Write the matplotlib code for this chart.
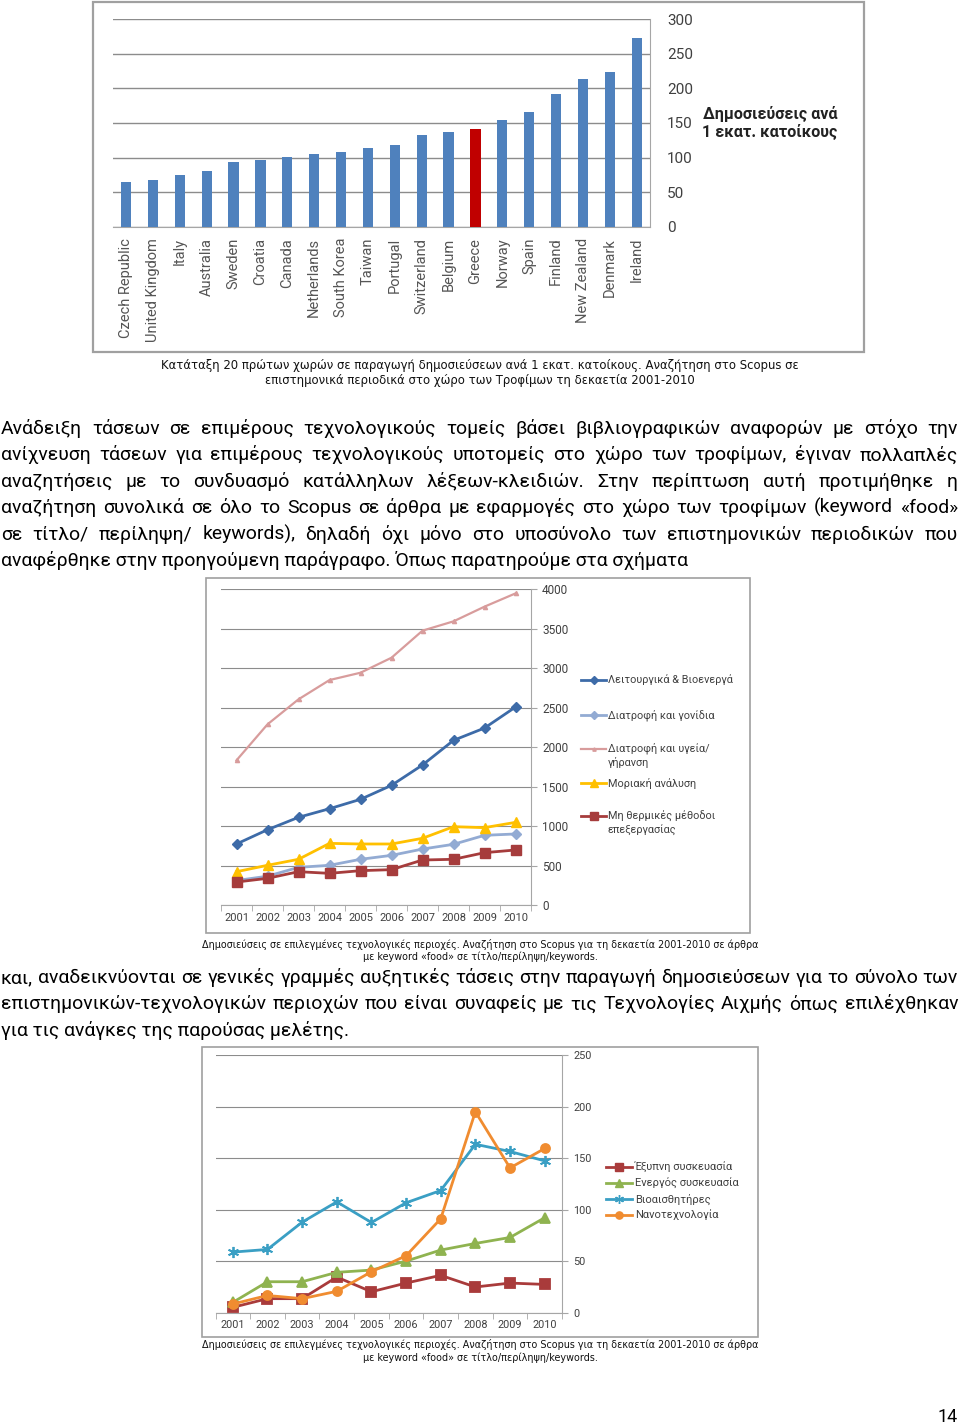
import matplotlib
matplotlib.use('Agg')
import matplotlib.pyplot as plt
import numpy as np
from matplotlib.patches import Rectangle

W, H = 960, 1425
plt.rcParams['font.family'] = ['Roboto', 'DejaVu Sans']

# ---------------- data ----------------
countries = ['Czech Republic', 'United Kingdom', 'Italy', 'Australia', 'Sweden',
             'Croatia', 'Canada', 'Netherlands', 'South Korea', 'Taiwan',
             'Portugal', 'Switzerland', 'Belgium', 'Greece', 'Norway', 'Spain',
             'Finland', 'New Zealand', 'Denmark', 'Ireland']
pubs_per_million = [64, 67, 75, 80.5, 94, 96, 101, 105, 108, 114,
                    118, 132, 137, 141, 154, 166, 192, 213, 224, 273.5]
highlight_country = 'Greece'
bar_legend = ['Δημοσιεύσεις ανά', '1 εκατ. κατοίκους']

years = ['2001', '2002', '2003', '2004', '2005', '2006', '2007', '2008', '2009', '2010']

tech_names = ['Λειτουργικά & Βιοενεργά', 'Διατροφή και γονίδια',
              'Διατροφή και υγεία/\nγήρανση', 'Μοριακή ανάλυση',
              'Μη θερμικές μέθοδοι\nεπεξεργασίας']
functional_bioactive = [773, 954, 1111, 1220, 1339, 1516, 1774, 2086, 2242, 2508]
nutrition_genes = [310, 365, 477, 503, 579, 629, 709, 769, 883, 900]
nutrition_health_ageing = [1833, 2289, 2606, 2850, 2943, 3133, 3476, 3594, 3780, 3948]
molecular_analysis = [422, 503, 579, 781, 773, 773, 845, 992, 980, 1047]
nonthermal_processing = [291, 338, 422, 401, 435, 448, 570, 579, 663, 697]

pack_names = ['Έξυπνη συσκευασία', 'Ενεργός συσκευασία', 'Βιοαισθητήρες', 'Νανοτεχνολογία']
smart_packaging = [5.5, 13.9, 13.9, 34.8, 20.6, 29, 36.5, 25.2, 29, 27.7]
active_packaging = [10.3, 30.3, 30.3, 39.4, 41.6, 50.3, 61, 67.4, 73.2, 92.3]
biosensors = [59, 61.6, 88, 107.7, 87.7, 106.8, 118.7, 163.5, 156.5, 147.4]
nanotechnology = [8.7, 17, 13.9, 21, 40, 55.5, 91.3, 195, 140.6, 159.4]

caption1 = ['Κατάταξη 20 πρώτων χωρών σε παραγωγή δημοσιεύσεων ανά 1 εκατ. κατοίκους. Αναζήτηση στο Scopus σε',
            'επιστημονικά περιοδικά στο χώρο των Τροφίμων τη δεκαετία 2001-2010']
caption2 = ['Δημοσιεύσεις σε επιλεγμένες τεχνολογικές περιοχές. Αναζήτηση στο Scopus για τη δεκαετία 2001-2010 σε άρθρα',
            'με keyword «food» σε τίτλο/περίληψη/keywords.']
para1 = ['Ανάδειξη τάσεων σε επιμέρους τεχνολογικούς τομείς βάσει βιβλιογραφικών αναφορών με στόχο την',
         'ανίχνευση τάσεων για επιμέρους τεχνολογικούς υποτομείς στο χώρο των τροφίμων, έγιναν πολλαπλές',
         'αναζητήσεις με το συνδυασμό κατάλληλων λέξεων-κλειδιών. Στην περίπτωση αυτή προτιμήθηκε η',
         'αναζήτηση συνολικά σε όλο το Scopus σε άρθρα με εφαρμογές στο χώρο των τροφίμων (keyword «food»',
         'σε τίτλο/ περίληψη/ keywords), δηλαδή όχι μόνο στο υποσύνολο των επιστημονικών περιοδικών που',
         'αναφέρθηκε στην προηγούμενη παράγραφο. Όπως παρατηρούμε στα σχήματα']
para2 = ['και, αναδεικνύονται σε γενικές γραμμές αυξητικές τάσεις στην παραγωγή δημοσιεύσεων για το σύνολο των',
         'επιστημονικών-τεχνολογικών περιοχών που είναι συναφείς με τις Τεχνολογίες Αιχμής όπως επιλέχθηκαν',
         'για τις ανάγκες της παρούσας μελέτης.']
page_number = '14'

# ---------------- figure ----------------
fig = plt.figure(figsize=(W / 100, H / 100), dpi=100)
fig.patch.set_facecolor('white')
page = fig.add_axes([0, 0, 1, 1], zorder=-5)
page.set_xlim(0, W)
page.set_ylim(H, 0)
page.axis('off')
renderer = fig.canvas.get_renderer()


def px_axes(x0, y0, x1, y1):
    a = fig.add_axes([x0 / W, 1 - y1 / H, (x1 - x0) / W, (y1 - y0) / H])
    a.patch.set_alpha(0)
    return a


def text_width(s, **kw):
    t = page.text(0, 0, s, **kw)
    w = t.get_window_extent(renderer).width
    t.remove()
    return w


def fit_size(s, target, **kw):
    return 10 * target / text_width(s, fontsize=10, **kw)


BODY = ['Roboto', 'DejaVu Sans']
TICK = '#404040'
GRID = '#8C8C8C'
AXC = '#A6A6A6'

# body font size: last line natural width ~705px, all justified lines must fit
fs_body = fit_size(para1[-1], 705, family=BODY)
for s in para1[:-1] + para2[:-1]:
    fs_body = min(fs_body, fit_size(s, 950, family=BODY))


def draw_para(lines, y0, dy):
    for i, s in enumerate(lines):
        y = y0 + i * dy
        if i < len(lines) - 1:
            words = s.split(' ')
            ws = [text_width(w, fontsize=fs_body, family=BODY) for w in words]
            gap = (958 - 1 - sum(ws)) / (len(words) - 1)
            x = 1
            for w, wd in zip(words, ws):
                page.text(x, y, w, fontsize=fs_body, family=BODY, va='baseline', ha='left', color='black')
                x += wd + gap
        else:
            page.text(1, y, s, fontsize=fs_body, family=BODY, va='baseline', ha='left', color='black')


def draw_caption(lines, y0, dy, width):
    fs = fit_size(lines[0], width, family='DejaVu Sans')
    for i, s in enumerate(lines):
        page.text(480, y0 + i * dy, s, fontsize=fs, family='DejaVu Sans', ha='center', va='center', color='#111111')


# ---------------- chart 1: bars ----------------
page.add_patch(Rectangle((93, 2), 771, 350, fill=False, ec='#A0A0A0', lw=1.6))
ax1 = px_axes(112.6, 19.3, 650.2, 226.7)
xb = np.arange(len(countries))
bar_colors = ['#C00000' if c == highlight_country else '#4F81BD' for c in countries]
ax1.bar(xb, pubs_per_million, width=0.38, color=bar_colors, zorder=3)
ax1.set_xlim(-0.5, len(countries) - 0.5)
ax1.set_ylim(0, 300)
ax1.set_yticks(np.arange(0, 301, 50))
ax1.yaxis.tick_right()
ax1.yaxis.grid(True, color=GRID, lw=1)
ax1.set_axisbelow(True)
for s in ['left', 'top']:
    ax1.spines[s].set_visible(False)
for s in ['right', 'bottom']:
    ax1.spines[s].set_color(AXC)
fs_c = fit_size('Czech Republic', 100, family=BODY)
ax1.set_xticks(xb)
ax1.set_xticklabels(countries, rotation=90, fontsize=fs_c, color='#555555')
ax1.tick_params(axis='x', length=0, pad=8)
ax1.tick_params(axis='y', length=0, pad=12, labelsize=11, labelcolor=TICK)
fs_l = fit_size(bar_legend[0], 135, family=BODY, weight='bold')
page.text(770, 114, bar_legend[0], fontsize=fs_l, weight='bold', ha='center', va='center', color='#222222')
page.text(770, 132, bar_legend[1], fontsize=fs_l, weight='bold', ha='center', va='center', color='#222222')

draw_caption(caption1, 365, 15, 636)
draw_para(para1, 434, 26.4)

# ---------------- chart 2 ----------------
page.add_patch(Rectangle((206, 578), 544, 355, fill=False, ec='#A0A0A0', lw=1.2))
ax2 = px_axes(221, 589.3, 531, 905)
xp = np.arange(len(years))
styles2 = [
    (functional_bioactive, '#3D6BA8', 'D', 5.5, 2.0),
    (nutrition_genes, '#93ABD3', 'D', 5.5, 2.0),
    (nutrition_health_ageing, '#D89C9C', '^', 3, 1.6),
    (molecular_analysis, '#FFC000', '^', 7.5, 2.0),
    (nonthermal_processing, '#A63C3C', 's', 7.5, 2.0),
]
for vals, c, m, ms, lw in styles2:
    ax2.plot(xp, vals, color=c, marker=m, ms=ms, lw=lw, mec=c, zorder=3)
ax2.set_xlim(-0.5, len(years) - 0.5)
ax2.set_ylim(0, 4000)
ax2.set_yticks(np.arange(0, 4001, 500))
ax2.yaxis.tick_right()
ax2.yaxis.grid(True, color=GRID, lw=0.8)
ax2.set_axisbelow(True)
for s in ['left', 'top']:
    ax2.spines[s].set_visible(False)
for s in ['right', 'bottom']:
    ax2.spines[s].set_color(AXC)
ax2.set_xticks(xp)
ax2.set_xticklabels(years, fontsize=8, color=TICK)
ax2.set_xticks(np.arange(-0.5, len(years), 1), minor=True)
ax2.tick_params(axis='x', which='major', length=0, pad=6)
ax2.tick_params(axis='x', which='minor', length=4, color=AXC)
ax2.tick_params(axis='y', length=4, color=AXC, pad=4, labelsize=8.5, labelcolor=TICK)

leg2_y = [680, 715, 748.5, 783, 816]
for (vals, c, m, ms, lw), name, y in zip(styles2, tech_names, leg2_y):
    page.plot([581, 606], [y, y], color=c, lw=lw)
    page.plot([593.5], [y], color=c, marker=m, ms=ms * 0.8, mec=c)
    for k, part in enumerate(name.split('\n')):
        page.text(608, y + k * 14, part, fontsize=7.8, color=TICK, ha='left', va='center')

draw_caption(caption2, 944, 13, 558)
draw_para(para2, 983, 26.4)

# ---------------- chart 3 ----------------
page.add_patch(Rectangle((202, 1047), 556, 290, fill=False, ec='#A0A0A0', lw=1.2))
ax3 = px_axes(215.5, 1055, 562, 1313)
styles3 = [
    (smart_packaging, '#A93B3B', 's', 6.5, 2.0),
    (active_packaging, '#8FB350', '^', 6.5, 2.0),
    (biosensors, '#3A9FC4', (6, 2, 0), 8, 2.0),
    (nanotechnology, '#F08C30', 'o', 6.5, 2.0),
]
for vals, c, m, ms, lw in styles3:
    ax3.plot(xp, vals, color=c, marker=m, ms=ms, lw=lw, mec=c, mew=1.3, zorder=3)
ax3.set_xlim(-0.5, len(years) - 0.5)
ax3.set_ylim(0, 250)
ax3.set_yticks(np.arange(0, 251, 50))
ax3.yaxis.tick_right()
ax3.yaxis.grid(True, color=GRID, lw=0.8)
ax3.set_axisbelow(True)
for s in ['left', 'top']:
    ax3.spines[s].set_visible(False)
for s in ['right', 'bottom']:
    ax3.spines[s].set_color(AXC)
ax3.set_xticks(xp)
ax3.set_xticklabels(years, fontsize=7.8, color=TICK)
ax3.set_xticks(np.arange(-0.5, len(years), 1), minor=True)
ax3.tick_params(axis='x', which='major', length=0, pad=5)
ax3.tick_params(axis='x', which='minor', length=4, color=AXC)
ax3.tick_params(axis='y', length=4, color=AXC, pad=4, labelsize=7.8, labelcolor=TICK)

leg3_y = [1167, 1183, 1199, 1215]
for (vals, c, m, ms, lw), name, y in zip(styles3, pack_names, leg3_y):
    page.plot([606, 632], [y, y], color=c, lw=lw)
    page.plot([619], [y], color=c, marker=m, ms=ms * 0.8, mec=c, mew=1.0)
    page.text(635, y, name, fontsize=8, color=TICK, ha='left', va='center')

draw_caption(caption2, 1345, 13, 558)

page.text(958, 1422, page_number, fontsize=13, family=BODY, ha='right', va='baseline', color='black')

fig.savefig('out.png', dpi=100, facecolor='white')
